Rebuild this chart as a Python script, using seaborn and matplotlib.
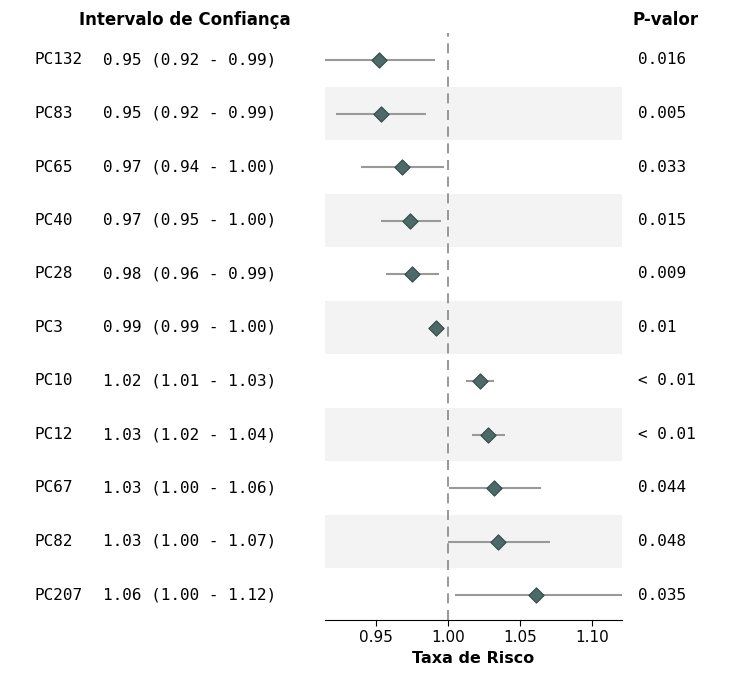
import matplotlib
matplotlib.use("Agg")
import matplotlib.pyplot as plt
import seaborn as sns
import pandas as pd

labels = ["PC132","PC83","PC65","PC40","PC28","PC3","PC10","PC12","PC67","PC82","PC207"]
ci_text = ["0.95 (0.92 - 0.99)","0.95 (0.92 - 0.99)","0.97 (0.94 - 1.00)","0.97 (0.95 - 1.00)",
           "0.98 (0.96 - 0.99)","0.99 (0.99 - 1.00)","1.02 (1.01 - 1.03)","1.03 (1.02 - 1.04)",
           "1.03 (1.00 - 1.06)","1.03 (1.00 - 1.07)","1.06 (1.00 - 1.12)"]
pvals = ["0.016","0.005","0.033","0.015","0.009","0.01","< 0.01","< 0.01","0.044","0.048","0.035"]
est = [0.952,0.9535,0.968,0.9736,0.975,0.992,1.022,1.028,1.032,1.0347,1.061]
lo = [0.9146,0.922,0.9396,0.9535,0.957,0.989,1.0125,1.0167,1.0007,1.0,1.005]
hi = [0.991,0.985,0.997,0.995,0.994,0.9965,1.032,1.0396,1.0646,1.0708,1.121]

df = pd.DataFrame({"label": labels, "est": est, "lo": lo, "hi": hi, "y": range(len(labels))})

sns.set_style("white")
fig = plt.figure(figsize=(7.33, 6.82), dpi=100)
ax = fig.add_axes([325/733, 1-620/682, 297/733, (620-33)/682])
n = len(labels)
for i in range(n):
    if i % 2 == 1:
        ax.axhspan(i-0.5, i+0.5, color="#f3f3f3", zorder=0, lw=0)
ax.hlines(df["y"], df["lo"], df["hi"], color="#999999", lw=1.5, zorder=1)
sns.scatterplot(data=df, x="est", y="y", marker="D", s=60, color="#4b6b68",
                edgecolor="#2f4a48", linewidth=0.8, ax=ax, zorder=3)
ax.axvline(1.0, color="#888888", ls=(0, (6, 4)), lw=1.2, zorder=2)
ax.set_xlim(0.9146, 1.121)
ax.set_ylim(10.467, -0.505)
ax.set_yticks([])
ax.set_ylabel("")
ax.set_xticks([0.95, 1.00, 1.05, 1.10])
ax.set_xticklabels(["0.95", "1.00", "1.05", "1.10"], fontsize=11, color="black")
ax.set_xlabel("Taxa de Risco", fontsize=11.5, fontweight="bold", color="black")
for s in ["top", "left", "right"]:
    ax.spines[s].set_visible(False)
ax.spines["bottom"].set_color("black")
ax.tick_params(axis="x", bottom=True, length=4, color="black")

for i in range(n):
    yf = 1 - (60 + i*53.5)/682
    fig.text(35/733, yf, labels[i], family="DejaVu Sans Mono", fontsize=11.5, va="center", color="black")
    fig.text(103/733, yf, ci_text[i], family="DejaVu Sans Mono", fontsize=11.5, va="center", color="black")
    fig.text(638/733, yf, pvals[i], family="DejaVu Sans Mono", fontsize=11.5, va="center", color="black")
fig.text(185/733, 1-20/682, "Intervalo de Confiança", fontsize=12, fontweight="bold", ha="center", va="center", color="black")
fig.text(666/733, 1-20/682, "P-valor", fontsize=12, fontweight="bold", ha="center", va="center", color="black")

fig.savefig("out.png", dpi=100)
